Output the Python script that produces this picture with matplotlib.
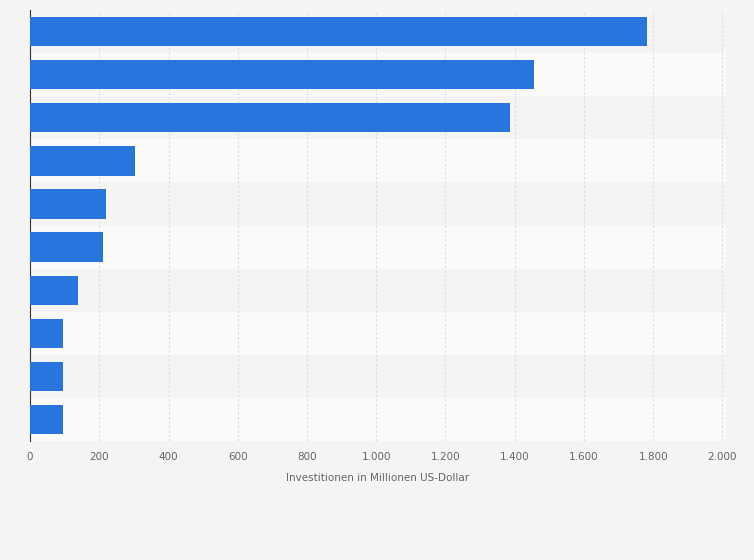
import matplotlib
matplotlib.use("Agg")
import matplotlib.pyplot as plt
from matplotlib.ticker import FuncFormatter

categories = [f"Kategorie {i}" for i in range(1, 11)]
values = [1783, 1457, 1387, 303, 220, 211, 139, 95, 95, 95]
xticks = [0, 200, 400, 600, 800, 1000, 1200, 1400, 1600, 1800, 2000]

fig = plt.figure(figsize=(7.54, 5.60), dpi=100, facecolor="#f4f4f4")
ax = fig.add_axes([0.0398, 0.2125, 0.923, 0.7695])
ax.set_facecolor("#f4f4f4")
n = len(categories)
for i in range(n):
    ax.axhspan(i - 0.5, i + 0.5, color="#f4f4f4" if i % 2 == 0 else "#fafafa", zorder=0, lw=0)
ax.barh(range(n), values, height=0.68, color="#2876dd", zorder=3)
ax.set_ylim(n - 0.5, -0.5)
ax.set_xlim(0, 2010)
ax.set_xticks(xticks)
ax.xaxis.set_major_formatter(FuncFormatter(lambda v, p: f"{int(v):,}".replace(",", ".")))
ax.grid(axis="x", color="#dcdcdc", lw=0.8, ls=(0, (2, 2)), zorder=1)
ax.set_yticks([])
for s in ["top", "right", "bottom"]:
    ax.spines[s].set_visible(False)
ax.spines["left"].set_color("#333333")
ax.tick_params(axis="x", length=0, labelsize=7.5, labelcolor="#666666", pad=8)
ax.set_xlabel("Investitionen in Millionen US-Dollar", fontsize=7.5, color="#666666", labelpad=8)
fig.savefig("out.png", dpi=100, facecolor=fig.get_facecolor())
